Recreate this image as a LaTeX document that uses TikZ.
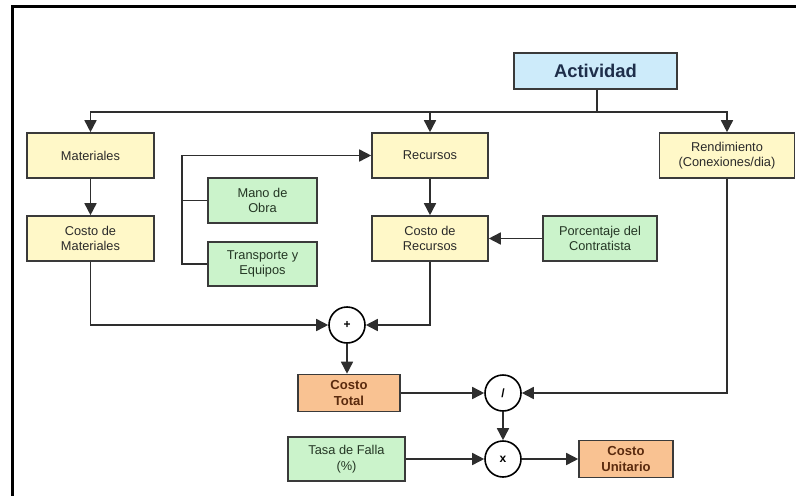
\documentclass[tikz,border=0pt]{standalone}
\usepackage{fontspec}
\setmainfont{Liberation Sans}
\usetikzlibrary{arrows.meta}

\definecolor{boxline}{HTML}{3A3A3A}
\definecolor{wire}{HTML}{2E2E2E}
\definecolor{yelfill}{HTML}{FFF8C8}
\definecolor{grnfill}{HTML}{CBF3CB}
\definecolor{bluefill}{HTML}{CDEBFA}
\definecolor{orgfill}{HTML}{F9C292}
\definecolor{yeltext}{HTML}{2A2A2A}
\definecolor{grntext}{HTML}{243624}
\definecolor{bluetext}{HTML}{1E2E4A}
\definecolor{orgtext}{HTML}{5A2A0E}

\tikzset{
  base/.style={draw=boxline, line width=1.2pt, align=center, inner sep=1pt,
    font=\fontsize{9.6}{11.6}\selectfont},
  yelbox/.style={base, fill=yelfill, text=yeltext},
  grnbox/.style={base, fill=grnfill, text=grntext},
  bluebox/.style={base, fill=bluefill, text=bluetext,
    font=\fontsize{13.8}{16}\selectfont\bfseries},
  orgbox/.style={base, fill=orgfill, text=orgtext,
    font=\fontsize{9.8}{11.6}\selectfont\bfseries},
  opnode/.style={circle, draw=black, line width=1.2pt, fill=white,
    minimum size=27pt, inner sep=0pt, font=\fontsize{9}{10}\selectfont\bfseries},
  wireline/.style={draw=wire, line width=1.2pt},
  arr/.style={wireline, -{Triangle[length=9pt,width=9pt]}},
  frameline/.style={draw=black, line width=1.9pt}
}

\begin{document}
\begin{tikzpicture}[x=0.75pt, y=-0.75pt]
  \useasboundingbox (0,0) rectangle (796,496);

  % outer frame (top and left edges)
  \draw[frameline] (12.5,496) -- (12.5,6.5) -- (796,6.5);

  % boxes
  \node[bluebox, minimum width=122.25pt, minimum height=27pt] (act) at (595.5,71) {Actividad};

  \node[yelbox, minimum width=95.25pt, minimum height=33.75pt] (mat)  at (90.5,155.5) {Materiales};
  \node[yelbox, minimum width=95.25pt, minimum height=33.75pt] (cmat) at (90.5,238.5) {Costo de\\Materiales};

  \node[yelbox, minimum width=87pt, minimum height=33.75pt] (rec)  at (430,155.5) {Recursos};
  \node[yelbox, minimum width=87pt, minimum height=33.75pt] (crec) at (430,238.5) {Costo de\\Recursos};

  \node[grnbox, minimum width=81.75pt, minimum height=33.75pt] (mano)  at (262.5,200.5) {Mano de\\Obra};
  \node[grnbox, minimum width=81.75pt, minimum height=33pt]    (trans) at (262.5,264) {Transporte y\\Equipos};

  \node[grnbox, minimum width=85.5pt, minimum height=33.75pt] (porc) at (600,238.5) {Porcentaje del\\Contratista};

  \node[yelbox, minimum width=101.25pt, minimum height=33.75pt] (rend) at (727,155.5) {Rendimiento\\(Conexiones/dia)};

  \node[orgbox, minimum width=76.5pt, minimum height=27.75pt] (ctot) at (349,393) {Costo\\Total};
  \node[grnbox, minimum width=87.75pt, minimum height=33pt] (tasa) at (346.5,459) {Tasa de Falla\\(\%)};
  \node[orgbox, minimum width=70.5pt, minimum height=27.75pt] (cuni) at (626,459) {Costo\\Unitario};

  % operators
  \node[opnode] (plus)  at (347,325) {+};
  \node[opnode] (div)   at (503,393) {/};
  \node[opnode] (times) at (503,459) {x};

  % distribution bus from Actividad
  \coordinate (bus) at (597,112);
  \draw[wireline] (act.south -| bus) -- (bus);
  \draw[arr] (bus) -| (mat.north);
  \draw[arr] (bus) -| (rec.north);
  \draw[arr] (bus) -| (rend.north);

  % vertical chains
  \draw[arr] (mat) -- (cmat);
  \draw[arr] (rec) -- (crec);

  % resource bracket
  \coordinate (brk) at (182,155.5);
  \draw[arr] (trans.west) -| (brk) -- (rec.west);
  \draw[wireline] (mano.west) -- (mano.west -| brk);

  % contractor percentage
  \draw[arr] (porc.west) -- (crec.east);

  % sums and products
  \draw[arr] (cmat.south) |- (plus.west);
  \draw[arr] (crec.south) |- (plus.east);
  \draw[arr] (plus.south) -- (plus.south |- ctot.north);
  \draw[arr] (ctot.east) -- (div.west);
  \draw[arr] (rend.south) |- (div.east);
  \draw[arr] (div.south) -- (times.north);
  \draw[arr] (tasa.east) -- (times.west);
  \draw[arr] (times.east) -- (cuni.west);
\end{tikzpicture}
\end{document}
